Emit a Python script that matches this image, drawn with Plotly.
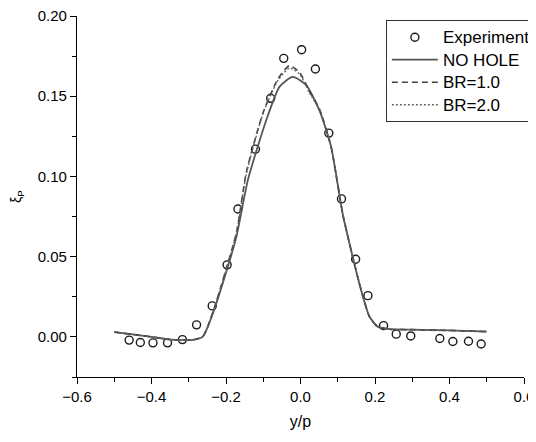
import plotly.graph_objects as go

exp_x = [-0.460, -0.430, -0.396, -0.357, -0.317, -0.279, -0.237, -0.197, -0.168,
         -0.121, -0.080, -0.045, 0.003, 0.040, 0.076, 0.110, 0.148, 0.181,
         0.223, 0.257, 0.296, 0.374, 0.409, 0.451, 0.485]
exp_y = [-0.0020, -0.0035, -0.0037, -0.0037, -0.0017, 0.0075, 0.0193, 0.0449, 0.0797,
         0.1170, 0.1487, 0.1736, 0.1790, 0.1670, 0.1270, 0.0860, 0.0484, 0.0257,
         0.0070, 0.0017, 0.0006, -0.0010, -0.0029, -0.0027, -0.0044]

# NO HOLE
nh_x = [-0.50, -0.45, -0.40, -0.356, -0.32, -0.289, -0.262, -0.235, -0.199, -0.172,
        -0.141, -0.092, -0.056, -0.021, 0.015, 0.051, 0.082, 0.113, 0.140, 0.163,
        0.185, 0.207, 0.239, 0.30, 0.40, 0.50]
nh_y = [0.0030, 0.0015, 0.0000, -0.0015, -0.0020, -0.0019, 0.0002, 0.0148, 0.0407, 0.0625,
        0.0980, 0.1350, 0.1560, 0.1620, 0.1570, 0.1410, 0.1186, 0.0770, 0.0500, 0.0290,
        0.0127, 0.0064, 0.0048, 0.0045, 0.0040, 0.0033]

# BR=1.0
b1_x = [-0.50, -0.45, -0.40, -0.356, -0.32, -0.289, -0.262, -0.235, -0.200, -0.172,
        -0.145, -0.100, -0.060, -0.030, -0.003, 0.024, 0.051, 0.082, 0.113, 0.140,
        0.163, 0.185, 0.207, 0.239, 0.30, 0.40, 0.50]
b1_y = [0.0030, 0.0015, 0.0000, -0.0015, -0.0020, -0.0019, 0.0004, 0.0155, 0.0420, 0.0650,
        0.1030, 0.1400, 0.1610, 0.1690, 0.1650, 0.1530, 0.1420, 0.1186, 0.0770, 0.0500,
        0.0290, 0.0127, 0.0064, 0.0048, 0.0045, 0.0040, 0.0033]

# BR=2.0
b2_x = [-0.50, -0.45, -0.40, -0.356, -0.32, -0.289, -0.262, -0.235, -0.200, -0.172,
        -0.145, -0.100, -0.060, -0.030, -0.003, 0.024, 0.051, 0.082, 0.113, 0.140,
        0.163, 0.185, 0.207, 0.239, 0.30, 0.40, 0.50]
b2_y = [0.0030, 0.0015, 0.0000, -0.0015, -0.0020, -0.0019, 0.0004, 0.0153, 0.0416, 0.0645,
        0.1020, 0.1395, 0.1600, 0.1675, 0.1640, 0.1520, 0.1415, 0.1186, 0.0770, 0.0500,
        0.0290, 0.0127, 0.0064, 0.0048, 0.0045, 0.0040, 0.0033]

FONT = "Liberation Sans, Arial, sans-serif"


def big(name):
    return '<span style="font-size:17px">' + name + '</span>'


fig = go.Figure()

fig.add_trace(go.Scatter(
    x=exp_x, y=exp_y, mode='markers', name=big('Experiments'),
    marker=dict(symbol='circle-open', size=8, color='#1a1a1a', line=dict(width=1.4)),
))
fig.add_trace(go.Scatter(
    x=nh_x, y=nh_y, mode='lines', name=big('NO HOLE'),
    line=dict(color='#555555', width=1.8, shape='spline', smoothing=0.6),
))
fig.add_trace(go.Scatter(
    x=b1_x, y=b1_y, mode='lines', name=big('BR=1.0'),
    line=dict(color='#444444', width=1.6, dash='6px,4px', shape='spline', smoothing=0.6),
))
fig.add_trace(go.Scatter(
    x=b2_x, y=b2_y, mode='lines', name=big('BR=2.0'),
    line=dict(color='#666666', width=1.4, dash='2px,2px', shape='spline', smoothing=0.6),
))

# the page body has an 8px margin; keep the figure small enough that the
# page never scrolls, and trim the margins so the plot sits where it belongs
fig.update_layout(
    width=528, height=426,
    margin=dict(l=69, r=12, t=8, b=57, autoexpand=False),
    paper_bgcolor='white', plot_bgcolor='white',
    font=dict(family=FONT, color='black', size=15),
    showlegend=True,
    legend=dict(
        x=0.691, y=0.989, xanchor='left', yanchor='top',
        bordercolor='#333333', borderwidth=1, bgcolor='white',
        font=dict(size=15), itemwidth=46, tracegroupgap=0,
    ),
)

fig.update_xaxes(
    range=[-0.6, 0.6], dtick=0.2, tickformat='.1f', automargin=False,
    ticklabeloverflow='allow',
    showline=True, linecolor='black', linewidth=1.3, mirror=False,
    ticks='outside', ticklen=6, tickwidth=1.2, tickcolor='black',
    minor=dict(dtick=0.1, ticks='outside', ticklen=4, tickwidth=1.2, tickcolor='black'),
    showgrid=False, zeroline=False,
    title=dict(text='y/p', font=dict(size=16), standoff=11),
)
fig.update_yaxes(
    range=[-0.025, 0.20], tick0=0, dtick=0.05, tickformat='.2f', automargin=False,
    ticklabeloverflow='allow',
    showline=True, linecolor='black', linewidth=1.3, mirror=False,
    ticks='outside', ticklen=6, tickwidth=1.2, tickcolor='black',
    minor=dict(tick0=0, dtick=0.025, ticks='outside', ticklen=4, tickwidth=1.2, tickcolor='black'),
    showgrid=False, zeroline=False,
    title=dict(text='ξ<sub>P</sub>', font=dict(size=14), standoff=12),
)

fig.write_html("out.html")
